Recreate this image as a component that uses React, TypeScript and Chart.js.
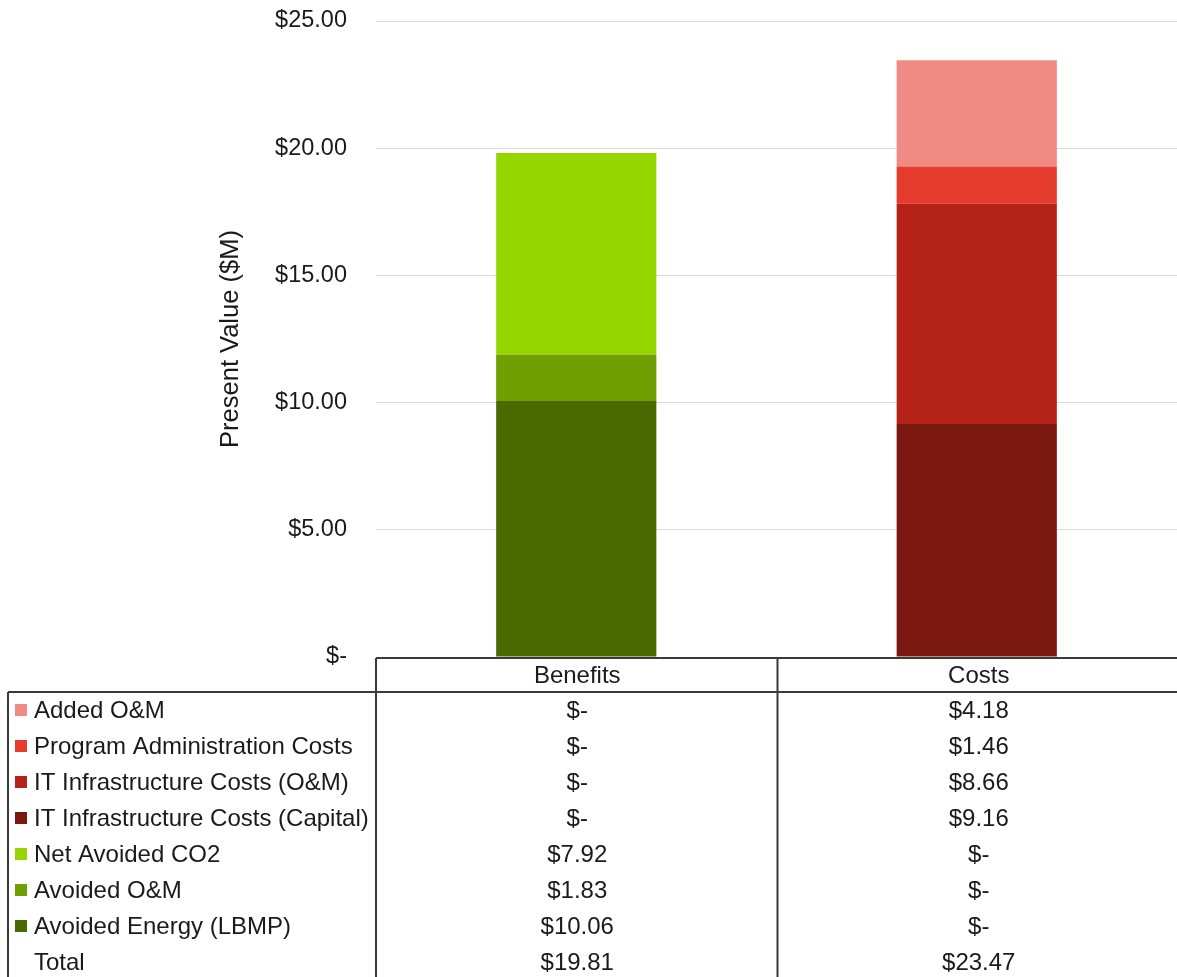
import React, { useEffect, useRef } from "react";
import { Chart, registerables } from "chart.js";

Chart.register(...registerables);

const categories = ["Benefits", "Costs"];

// stacking order: bottom first
const seriesNames = [
  "Avoided Energy (LBMP)",
  "Avoided O&M",
  "Net Avoided CO2",
  "IT Infrastructure Costs (Capital)",
  "IT Infrastructure Costs (O&M)",
  "Program Administration Costs",
  "Added O&M",
];
const avoidedEnergy = [10.06, 0];
const avoidedOM = [1.83, 0];
const netAvoidedCO2 = [7.92, 0];
const itCapital = [0, 9.16];
const itOM = [0, 8.66];
const programAdmin = [0, 1.46];
const addedOM = [0, 4.18];
const totals = [19.81, 23.47];

const seriesValues = [avoidedEnergy, avoidedOM, netAvoidedCO2, itCapital, itOM, programAdmin, addedOM];
const seriesColors = ["#4A6A00", "#6F9F00", "#96D600", "#7A1810", "#B52318", "#E53C2E", "#EF8B82"];

const yTicks = [0, 5, 10, 15, 20, 25];
const yTitle = "Present Value ($M)";

const FONT = "'Liberation Sans', Arial, sans-serif";
const TEXT = "#1a1a1a";

const fmt = (v: number) => (v === 0 ? "$-" : "$" + v.toFixed(2));

const tablePlugin = {
  id: "dataTable",
  afterDraw(chart: any) {
    const { ctx, chartArea } = chart;
    const x = chart.scales.x;
    const left = chartArea.left;
    const right = chart.width;
    const c0 = x.getPixelForValue(0);
    const c1 = x.getPixelForValue(1);
    const mid = (c0 + c1) / 2 + 1;
    const centers = [c0 + 1, c1 + 2];
    const headerTop = chartArea.bottom + 1;
    const headerBottom = headerTop + 34;
    const rowH = 36;
    const tableLeft = 8;
    const bottom = chart.height + 5;

    ctx.save();
    ctx.strokeStyle = "#3a3a3a";
    ctx.lineWidth = 2;
    ctx.beginPath();
    ctx.moveTo(left, headerTop);
    ctx.lineTo(right + 2, headerTop);
    ctx.moveTo(tableLeft, headerBottom);
    ctx.lineTo(right + 2, headerBottom);
    ctx.moveTo(left, headerTop);
    ctx.lineTo(left, bottom);
    ctx.moveTo(mid, headerTop);
    ctx.lineTo(mid, bottom);
    ctx.moveTo(tableLeft, headerBottom);
    ctx.lineTo(tableLeft, bottom);
    ctx.stroke();

    ctx.font = `24px ${FONT}`;
    ctx.fillStyle = TEXT;
    ctx.textBaseline = "middle";
    ctx.textAlign = "center";
    categories.forEach((c, i) => ctx.fillText(c, centers[i], (headerTop + headerBottom) / 2 + 1));

    const rows = seriesNames.map((n, i) => ({ name: n, values: seriesValues[i], color: seriesColors[i] })).reverse();
    rows.forEach((r, ri) => {
      const cy = headerBottom + rowH / 2 + ri * rowH;
      ctx.fillStyle = r.color;
      ctx.fillRect(15, cy - 6, 12, 12);
      ctx.fillStyle = TEXT;
      ctx.textAlign = "left";
      ctx.fillText(r.name, 34, cy + 1);
      ctx.textAlign = "center";
      r.values.forEach((v, i) => ctx.fillText(fmt(v), centers[i], cy + 1));
    });
    const ty = headerBottom + rowH / 2 + rows.length * rowH;
    ctx.textAlign = "left";
    ctx.fillText("Total", 34, ty + 1);
    ctx.textAlign = "center";
    totals.forEach((v, i) => ctx.fillText(fmt(v), centers[i], ty + 1));
    ctx.restore();
  },
};

export default function App() {
  const ref = useRef<HTMLCanvasElement>(null);
  useEffect(() => {
    document.body.style.margin = "0";
    const chart = new Chart(ref.current!, {
      type: "bar",
      data: {
        labels: categories,
        datasets: seriesNames.map((name, i) => ({
          label: name,
          data: seriesValues[i],
          backgroundColor: seriesColors[i],
          borderWidth: 0,
          categoryPercentage: 0.4,
          barPercentage: 1,
        })),
      },
      options: {
        animation: false,
        responsive: false,
        devicePixelRatio: 1,
        layout: { padding: { left: 0, right: 0, top: 21, bottom: 320 } },
        plugins: { legend: { display: false }, tooltip: { enabled: false } },
        scales: {
          x: { stacked: true, display: false },
          y: {
            stacked: true,
            min: 0,
            max: 25,
            afterBuildTicks: (s: any) => {
              s.ticks = yTicks.map((v) => ({ value: v }));
            },
            afterFit: (s: any) => {
              s.width = 376;
              s.paddingTop = 0;
              s.paddingBottom = 0;
            },
            border: { display: false },
            grid: { color: "#d9d9d9", lineWidth: 1, drawTicks: false },
            ticks: {
              padding: 29,
              color: TEXT,
              font: { family: FONT, size: 23.5 },
              callback: (v: any) => fmt(Number(v)),
            },
            title: {
              display: true,
              text: yTitle,
              color: TEXT,
              font: { family: FONT, size: 25.5 },
              padding: { top: 216, bottom: 0 },
            },
          },
        },
      },
      plugins: [tablePlugin],
    });
    return () => chart.destroy();
  }, []);
  return (
    <div style={{ width: 1177, height: 977 }}>
      <canvas ref={ref} width={1177} height={977} />
    </div>
  );
}
